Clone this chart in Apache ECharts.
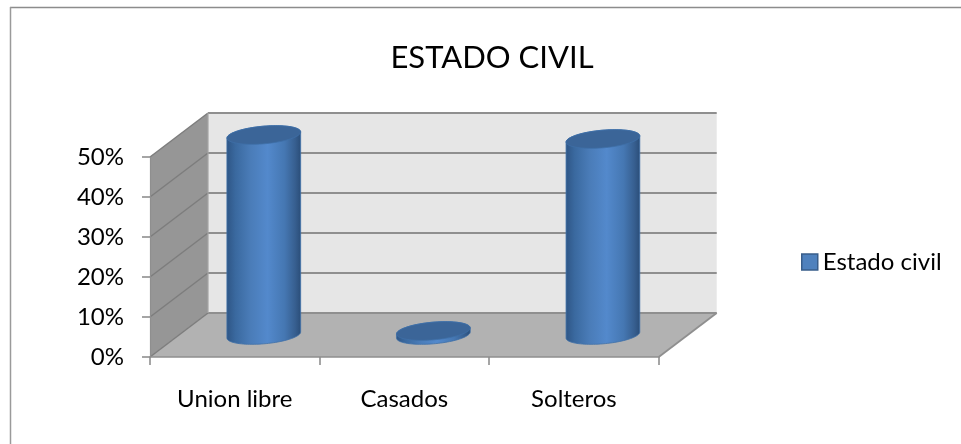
<!DOCTYPE html>
<html>
<head>
<meta charset="utf-8">
<style>html,body{margin:0;padding:0;background:#fff}#c{width:961px;height:444px}</style>
<script src="https://cdn.jsdelivr.net/npm/echarts@6/dist/echarts.min.js"></script>
</head>
<body>
<div id="c"></div>
<script>
const chartTitle = 'ESTADO CIVIL';
const seriesName = 'Estado civil';
const categories = ['Union libre', 'Casados', 'Solteros'];
const values = [0.50, 0.01, 0.49];
const gridTicks = [0.1, 0.2, 0.3, 0.4, 0.5];

const DX = 58, DY = -44;
const LINE = '#8f8f8f';
const chart = echarts.init(document.getElementById('c'), null, {renderer: 'canvas'});

function renderWalls(params, api) {
  const g = params.coordSys;
  const x0 = g.x, x1 = g.x + g.width, y0 = g.y + g.height, y1 = g.y;
  const poly = (pts, fill) => ({type: 'polygon', shape: {points: pts}, style: {fill}});
  const ln = (a, b, w, c) => ({type: 'line', shape: {x1: a[0], y1: a[1], x2: b[0], y2: b[1]},
    style: {stroke: c || LINE, lineWidth: w || 1.6}});
  const kids = [
    poly([[x0 + DX, y1 + DY], [x1 + DX, y1 + DY], [x1 + DX, y0 + DY], [x0 + DX, y0 + DY]], '#e6e6e6'),
    poly([[x0, y1], [x0 + DX, y1 + DY], [x0 + DX, y0 + DY], [x0, y0]], '#969696'),
    poly([[x0, y0], [x0 + DX, y0 + DY], [x1 + DX, y0 + DY], [x1, y0]], '#b2b2b2')
  ];
  gridTicks.forEach(v => {
    const y = api.coord([0, v])[1];
    kids.push(ln([x0, y], [x0 + DX, y + DY], 1.5, '#7d7d7d'));
    kids.push(ln([x0 + DX, y + DY], [x1 + DX, y + DY], 1.8));
  });
  kids.push(ln([x0, y0], [x0 + DX, y0 + DY], 1.5, '#7d7d7d'));
  kids.push(ln([x0 + DX, y0 + DY], [x1 + DX, y0 + DY], 1.8));
  kids.push(ln([x1, y0], [x1 + DX, y0 + DY], 1.8));
  kids.push(ln([x0 + DX, y1 + DY], [x0 + DX, y0 + DY], 1.2, '#a5a5a5'));
  return {type: 'group', children: kids};
}

function ellipsePt(c, a, b, r, t) {
  return [c[0] + a * Math.cos(t) * Math.cos(r) - b * Math.sin(t) * Math.sin(r),
          c[1] + a * Math.cos(t) * Math.sin(r) + b * Math.sin(t) * Math.cos(r)];
}

function renderCylinder(params, api) {
  const idx = api.value(0), v = api.value(1);
  const base = api.coord([idx, 0]), top = api.coord([idx, v]);
  const ox = DX / 2, oy = DY / 2 ;
  const cb = [base[0] + ox, base[1] + oy], ct = [top[0] + ox, top[1] + oy];
  const a = 37, b = 8.8, r = -5 * Math.PI / 180;
  const tr = Math.atan(-(b / a) * Math.tan(r));   // rightmost parameter
  const N = 48, body = [], cap = [];
  for (let i = 0; i <= N; i++) {
    body.push(ellipsePt(cb, a, b, r, tr + Math.PI * i / N));   // right -> lower -> left
  }
  for (let i = 0; i <= N; i++) {
    body.push(ellipsePt(ct, a, b, r, tr + Math.PI + Math.PI * i / N)); // left -> upper -> right
  }
  for (let i = 0; i < 2 * N; i++) {
    cap.push(ellipsePt(ct, a, b, r, Math.PI * i / N));
  }
  const grad = new echarts.graphic.LinearGradient(0, 0, 1, 0, [
    {offset: 0, color: '#2e5585'},
    {offset: 0.12, color: '#3a699f'},
    {offset: 0.32, color: '#4a7cb8'},
    {offset: 0.55, color: '#5389cc'},
    {offset: 0.78, color: '#4577b2'},
    {offset: 0.92, color: '#375f90'},
    {offset: 1, color: '#2a4d78'}
  ]);
  return {type: 'group', children: [
    {type: 'polygon', shape: {points: body}, style: {fill: grad, stroke: '#3f70a8', lineWidth: 0.8}},
    {type: 'polygon', shape: {points: cap}, style: {fill: '#3b6598', stroke: '#3f70a8', lineWidth: 0.8}}
  ]};
}

chart.setOption({
  animation: false,
  textStyle: {fontFamily: 'Lato'},
  title: {
    text: chartTitle, left: 487, top: 37, textAlign: 'center',
    textStyle: {fontFamily: 'Lato', fontSize: 31, fontWeight: 'normal', color: '#000'}
  },
  legend: {
    left: 796, top: 245, itemWidth: 16, itemHeight: 16, itemGap: 0, selectedMode: false,
    data: [{name: seriesName, icon: 'rect',
      itemStyle: {color: '#4f81bd', borderColor: '#385d8a', borderWidth: 1.5}}],
    textStyle: {fontFamily: 'Lato', fontSize: 24, color: '#000'}
  },
  grid: {left: 150, right: 302.3, top: 157, bottom: 87},
  xAxis: {
    type: 'category', data: categories, z: 5,
    axisLine: {lineStyle: {color: LINE, width: 1.6}},
    axisTick: {show: true, length: 8, lineStyle: {color: LINE, width: 1.6}},
    axisLabel: {fontSize: 24, color: '#000', margin: 30, fontFamily: 'Lato'},
    splitLine: {show: false}
  },
  yAxis: {
    type: 'value', min: 0, max: 0.5, interval: 0.1, z: 5,
    axisLine: {show: true, lineStyle: {color: LINE, width: 1.2}},
    axisTick: {show: true, length: 8, lineStyle: {color: LINE, width: 1.6}},
    axisLabel: {fontSize: 24, color: '#000', margin: 26, fontFamily: 'Lato',
      formatter: v => Math.round(v * 100) + '%'},
    splitLine: {show: false}
  },
  graphic: [
    {type: 'line', silent: true, shape: {x1: 10, y1: 7.5, x2: 961, y2: 7.5}, style: {stroke: '#8c8c8c', lineWidth: 1.5}},
    {type: 'line', silent: true, shape: {x1: 10.5, y1: 7, x2: 10.5, y2: 444}, style: {stroke: '#9a9a9a', lineWidth: 1.5}}
  ],
  series: [
    {type: 'custom', name: 'walls', coordinateSystem: 'cartesian2d', silent: true, z: 1,
      renderItem: renderWalls, data: [[0, 0]], clip: false},
    {type: 'custom', name: seriesName, coordinateSystem: 'cartesian2d', z: 3,
      itemStyle: {color: '#4f81bd'},
      encode: {x: 0, y: 1}, clip: false,
      renderItem: renderCylinder,
      data: values.map((v, i) => [i, v])}
  ]
});
</script>
</body>
</html>
